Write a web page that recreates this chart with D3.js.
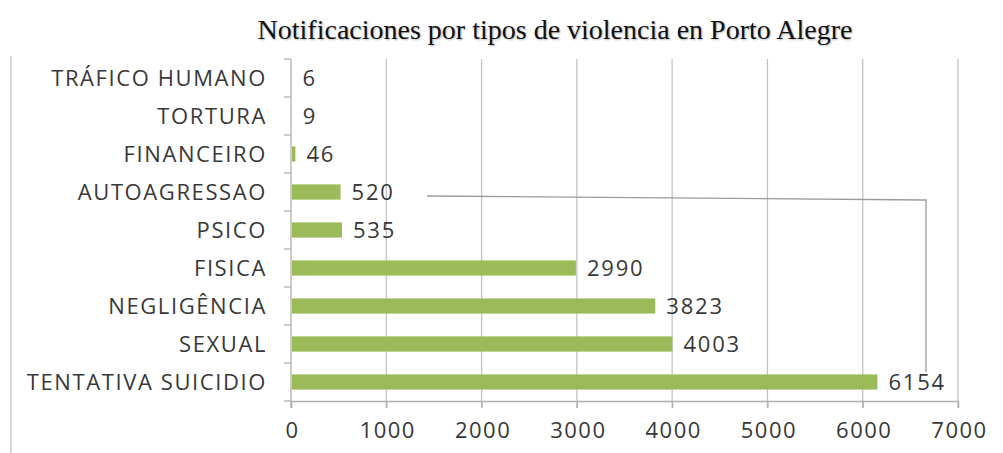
<!DOCTYPE html>
<html>
<head>
<meta charset="utf-8">
<script src="https://cdn.jsdelivr.net/npm/d3@7"></script>
<style>
  body { margin: 0; background: #fff; }
  svg { display: block; }
</style>
</head>
<body>
<svg id="chart" width="1003" height="453"></svg>
<script>
// data (top row first)
const categories = ["TRÁFICO HUMANO", "TORTURA", "FINANCEIRO", "AUTOAGRESSAO", "PSICO",
  "FISICA", "NEGLIGÊNCIA", "SEXUAL", "TENTATIVA SUICIDIO"];
const values = [6, 9, 46, 520, 535, 2990, 3823, 4003, 6154];
const xTicks = [0, 1000, 2000, 3000, 4000, 5000, 6000, 7000];
const title = "Notificaciones por tipos de violencia en Porto Alegre";

const BARCOLOR = "#9bbb59";
const TEXTCOLOR = "#383838";
const GRIDCOLOR = "#c4c4c4";
const LABELFONT = "'Open Sans', sans-serif";

var svg = d3.select("#chart");
var plot = { left: 291, right: 958, top: 59, bottom: 401 };

var x = d3.scaleLinear().domain([0, 7000]).range([plot.left, plot.right]);
var y = d3.scaleBand()
  .domain(categories)
  .range([plot.top, plot.bottom])
  .paddingInner(0.6)
  .paddingOuter(0.3);

// outer chart border (only the left edge is visible)
svg.append("line")
  .attr("x1", 11).attr("x2", 11).attr("y1", 56).attr("y2", 453)
  .attr("stroke", "#c8c8c8").attr("stroke-width", 1.5);

// title
svg.append("text")
  .attr("x", 555).attr("y", 39)
  .attr("text-anchor", "middle")
  .style("font-family", "'Liberation Serif', serif")
  .style("font-size", "28px")
  .style("fill", "#111")
  .style("text-shadow", "1px 1px 2px rgba(0,0,0,0.3)")
  .text(title);

// vertical gridlines
svg.append("g")
  .selectAll("line")
  .data(xTicks.filter(d => d > 0))
  .join("line")
  .attr("x1", d => x(d)).attr("x2", d => x(d))
  .attr("y1", plot.top).attr("y2", plot.bottom + 7)
  .attr("stroke", GRIDCOLOR).attr("stroke-width", 1.3);

// x axis
var xAxis = svg.append("g")
  .attr("transform", "translate(0," + plot.bottom + ")")
  .call(d3.axisBottom(x).tickValues(xTicks).tickFormat(d3.format("d")).tickSize(7).tickPadding(14));
xAxis.select(".domain").attr("stroke", "#b0b0b0").attr("stroke-width", 1.3);
xAxis.selectAll(".tick line").attr("stroke", "#b0b0b0").attr("stroke-width", 1.3);
xAxis.selectAll("text")
  .attr("dx", "1px")
  .style("font-family", LABELFONT)
  .style("font-size", "22px")
  .style("letter-spacing", "1.5px")
  .style("fill", TEXTCOLOR);

// y axis line and ticks between categories
svg.append("line")
  .attr("x1", plot.left).attr("x2", plot.left)
  .attr("y1", plot.top).attr("y2", plot.bottom + 7)
  .attr("stroke", "#b0b0b0").attr("stroke-width", 1.3);
svg.append("g")
  .selectAll("line")
  .data(d3.range(categories.length + 1))
  .join("line")
  .attr("x1", plot.left - 7).attr("x2", plot.left)
  .attr("y1", i => plot.top + i * y.step())
  .attr("y2", i => plot.top + i * y.step())
  .attr("stroke", "#b0b0b0").attr("stroke-width", 1.3);

// category labels
svg.append("g")
  .selectAll("text")
  .data(categories)
  .join("text")
  .attr("x", 267)
  .attr("y", d => y(d) + y.bandwidth() / 2)
  .attr("dy", "0.36em")
  .attr("text-anchor", "end")
  .style("font-family", LABELFONT)
  .style("font-size", "22px")
  .style("letter-spacing", "1.6px")
  .style("fill", TEXTCOLOR)
  .text(d => d);

// bars
svg.append("g")
  .selectAll("rect")
  .data(values)
  .join("rect")
  .attr("x", x(0) + 1)
  .attr("y", (d, i) => y(categories[i]))
  .attr("width", d => Math.max(0, x(d) - x(0) - 1))
  .attr("height", y.bandwidth())
  .attr("fill", BARCOLOR);

// value labels
svg.append("g")
  .selectAll("text")
  .data(values)
  .join("text")
  .attr("x", d => x(d) + 11)
  .attr("y", (d, i) => y(categories[i]) + y.bandwidth() / 2)
  .attr("dy", "0.38em")
  .style("font-family", LABELFONT)
  .style("font-size", "22px")
  .style("letter-spacing", "1.8px")
  .style("fill", TEXTCOLOR)
  .text(d => d);

// stray connector line seen in the original
svg.append("path")
  .attr("d", "M427,196 L926,200 L926,372")
  .attr("fill", "none")
  .attr("stroke", "#9a9a9a")
  .attr("stroke-width", 1.3);
</script>
</body>
</html>
